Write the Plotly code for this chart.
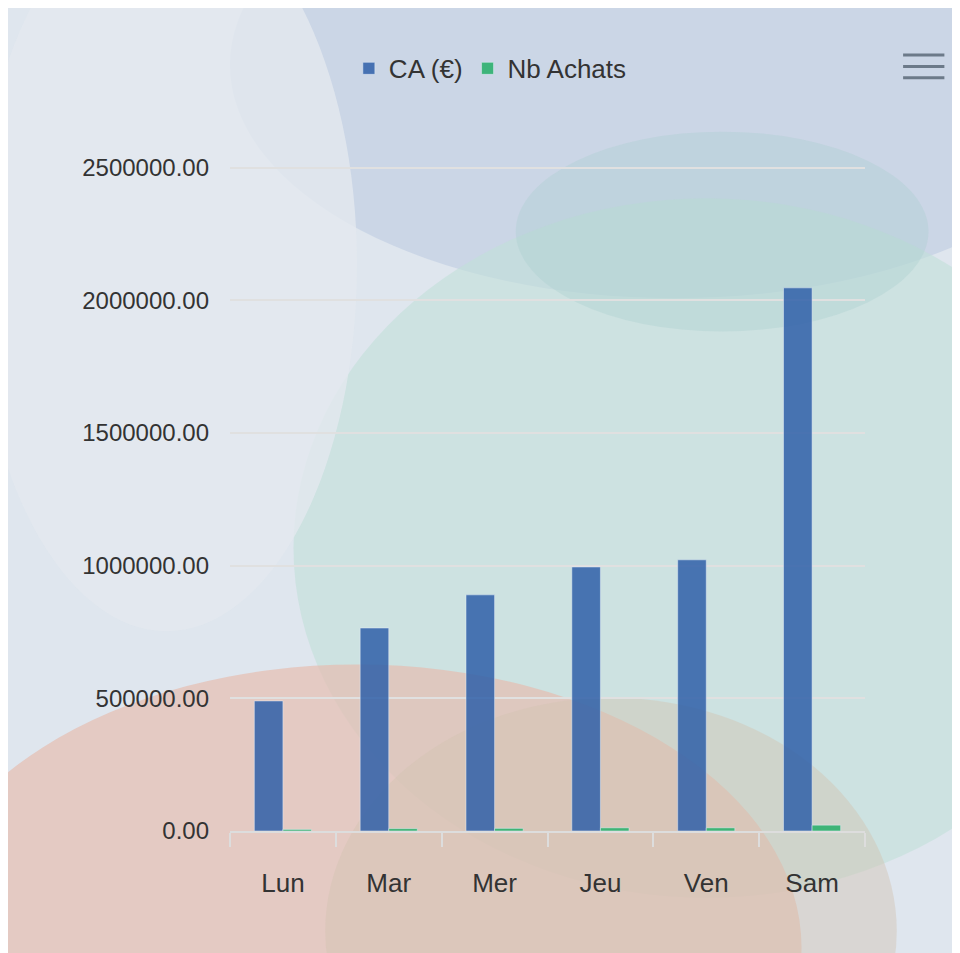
import plotly.graph_objects as go

days = ["Lun", "Mar", "Mer", "Jeu", "Ven", "Sam"]
ca = [490000, 765000, 890000, 995000, 1022000, 2047000]
achats = [6000, 9000, 10000, 12000, 12000, 22000]
ticks = [0, 500000, 1000000, 1500000, 2000000, 2500000]

fig = go.Figure()
fig.add_bar(x=days, y=ca, name="CA (€)", marker=dict(color="rgba(47,95,168,0.85)"))
fig.add_bar(x=days, y=achats, name="Nb Achats", marker=dict(color="rgba(46,176,110,0.9)"))

shapes = []
def blob(x0, y0, x1, y1, color, op):
    shapes.append(dict(type="circle", xref="paper", yref="paper", x0=x0, y0=y0, x1=x1, y1=y1,
                       fillcolor=color, opacity=op, line_width=0, layer="below"))
blob(0.0, 0.8, 1.4, 1.5, "#b9c9e0", 0.55)
blob(0.1, -0.1, 1.4, 0.95, "#c2e0d8", 0.6)
blob(0.45, 0.75, 1.1, 1.05, "#a9cfcf", 0.35)
blob(-0.5, -0.6, 0.9, 0.25, "#e6bdb1", 0.7)
blob(0.15, -0.5, 1.05, 0.2, "#d2c3b1", 0.45)
blob(-0.4, 0.3, 0.2, 1.4, "#e4e8ef", 0.8)
fig.update_layout(
    width=960, height=953,
    paper_bgcolor="#dfe6ee", plot_bgcolor="rgba(0,0,0,0)",
    margin=dict(l=222, r=103, t=157, b=130),
    barmode="group", bargap=0.46, bargroupgap=0,
    font=dict(family="Helvetica, Liberation Sans, Arial", size=24, color="#333"),
    legend=dict(orientation="h", x=0.41, xanchor="center", y=1.145, yanchor="middle",
                font=dict(size=26, color="#333"), bgcolor="rgba(0,0,0,0)"),
    yaxis=dict(range=[0, 2510000], tickvals=ticks, tickformat=".2f", gridcolor="#e0e0e0",
               gridwidth=2, zeroline=False, ticks="", ticklabelstandoff=20),
    xaxis=dict(showline=True, linecolor="#dddddd", linewidth=2, ticks="outside", tickcolor="#dddddd",
               ticklen=14, tickson="boundaries", tickwidth=2, tickfont=dict(size=26),
               ticklabelstandoff=28),
    shapes=shapes + [dict(type="line", xref="paper", yref="paper", x0=1.06, x1=1.125, y0=y, y1=y,
                           line=dict(color="#6c7a89", width=3)) for y in (1.165, 1.148, 1.131)],
)
fig.write_html("out.html")
